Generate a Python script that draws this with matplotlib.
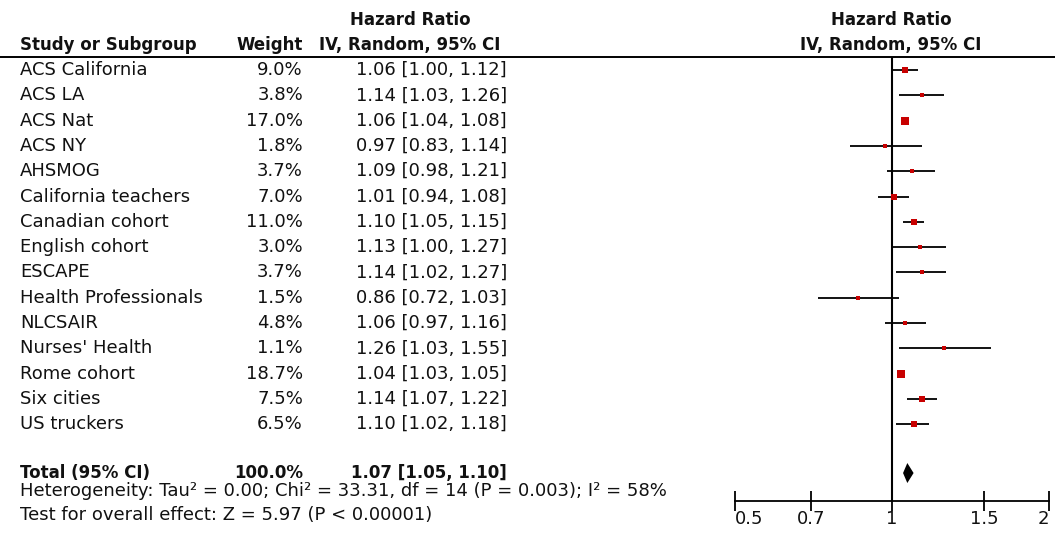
import numpy as np
import matplotlib
matplotlib.use("Agg")
import matplotlib.pyplot as plt
from matplotlib.transforms import blended_transform_factory
from matplotlib.lines import Line2D

# ---------------- data ----------------
studies = ["ACS California", "ACS LA", "ACS Nat", "ACS NY", "AHSMOG",
           "California teachers", "Canadian cohort", "English cohort", "ESCAPE",
           "Health Professionals", "NLCSAIR", "Nurses' Health", "Rome cohort",
           "Six cities", "US truckers"]
weights = [9.0, 3.8, 17.0, 1.8, 3.7, 7.0, 11.0, 3.0, 3.7, 1.5, 4.8, 1.1, 18.7, 7.5, 6.5]
hr = [1.06, 1.14, 1.06, 0.97, 1.09, 1.01, 1.10, 1.13, 1.14, 0.86, 1.06, 1.26, 1.04, 1.14, 1.10]
ci_lo = [1.00, 1.03, 1.04, 0.83, 0.98, 0.94, 1.05, 1.00, 1.02, 0.72, 0.97, 1.03, 1.03, 1.07, 1.02]
ci_hi = [1.12, 1.26, 1.08, 1.14, 1.21, 1.08, 1.15, 1.27, 1.27, 1.03, 1.16, 1.55, 1.05, 1.22, 1.18]

total_label = "Total (95% CI)"
total_weight = 100.0
total_hr, total_lo, total_hi = 1.07, 1.05, 1.10

heterogeneity = "Heterogeneity: Tau\u00b2 = 0.00; Chi\u00b2 = 33.31, df = 14 (P = 0.003); I\u00b2 = 58%"
overall = "Test for overall effect: Z = 5.97 (P < 0.00001)"

xticks = [0.5, 0.7, 1, 1.5, 2]
xticklabels = ["0.5", "0.7", "1", "1.5", "2"]

# ---------------- layout ----------------
W, H = 1055, 540
FS = 13      # regular text
FSB = 12     # bold headers
TXT = "#111111"
plt.rcParams['font.family'] = ['DejaVu Sans']
fig = plt.figure(figsize=(W / 100, H / 100), dpi=100)

row0_px, row_step = 70.0, 25.3
top_px, axis_px = 57.0, 500.5
left_px, right_px = 735.0, 1049.0

def px2row(p):
    return (p - row0_px) / row_step

ax = fig.add_axes([left_px / W, 1 - axis_px / H, (right_px - left_px) / W, (axis_px - top_px) / H])
ax.set_xscale("log")
ax.set_xlim(0.5, 2)
ax.set_ylim(px2row(axis_px), px2row(top_px))
ax.minorticks_off()
ax.set_xticks(xticks)
ax.set_xticklabels(xticklabels)
ax.tick_params(axis="x", direction="inout", length=14, width=1.3, pad=0,
               labelsize=FS, colors="black", labelcolor=TXT)
ax.set_yticks([])
for s in ["top", "left", "right"]:
    ax.spines[s].set_visible(False)
ax.spines["bottom"].set_linewidth(1.3)
labs = ax.get_xticklabels()
labs[0].set_ha("left")
labs[-1].set_ha("right")
ax.patch.set_alpha(0)

# line of no effect
ax.axvline(1, color="black", lw=1.5, zorder=1)

rows = np.arange(len(studies))
for r, w, e, lo, hi in zip(rows, weights, hr, ci_lo, ci_hi):
    ax.plot([lo, hi], [r, r], color="black", lw=1.3, solid_capstyle="butt", zorder=2)
    side_px = max(3.5, 8.5 * np.sqrt(w / 18.7))
    ax.plot([e], [r], marker="s", ms=side_px * 0.72, color="#C80000",
            markeredgewidth=0, zorder=3)

total_row = 15.93
dh = 10.0 / row_step
ax.fill([total_lo, total_hr, total_hi, total_hr],
        [total_row, total_row - dh, total_row, total_row + dh],
        color="black", lw=0, zorder=3)

# header rule across the full width
fig.add_artist(Line2D([0, 1], [1 - top_px / H, 1 - top_px / H],
                      transform=fig.transFigure, color="black", lw=1.4))

# ---------------- table text ----------------
tr = blended_transform_factory(fig.transFigure, ax.transData)
name_x, weight_x, hr_x = 20 / W, 303 / W, 507 / W

def fy(p):
    return 1 - p / H

hdr = dict(fontsize=FSB, fontweight="bold", color=TXT, va="center")
fig.text(20 / W, fy(45), "Study or Subgroup", ha="left", **hdr)
fig.text(weight_x, fy(45), "Weight", ha="right", **hdr)
fig.text(410 / W, fy(20), "Hazard Ratio", ha="center", **hdr)
fig.text(410 / W, fy(45), "IV, Random, 95% CI", ha="center", **hdr)
fig.text(891 / W, fy(20), "Hazard Ratio", ha="center", **hdr)
fig.text(891 / W, fy(45), "IV, Random, 95% CI", ha="center", **hdr)

for r, name, w, e, lo, hi in zip(rows, studies, weights, hr, ci_lo, ci_hi):
    fig.text(name_x, r, name, transform=tr, ha="left", va="center", fontsize=FS, color=TXT)
    fig.text(weight_x, r, f"{w:.1f}%", transform=tr, ha="right", va="center", fontsize=FS, color=TXT)
    fig.text(hr_x, r, f"{e:.2f} [{lo:.2f}, {hi:.2f}]", transform=tr, ha="right",
             va="center", fontsize=FS, color=TXT)

fig.text(name_x, total_row, total_label, transform=tr, ha="left", va="center",
         fontsize=FSB, fontweight="bold", color=TXT)
fig.text(weight_x, total_row, f"{total_weight:.1f}%", transform=tr, ha="right", va="center",
         fontsize=FSB, fontweight="bold", color=TXT)
fig.text(hr_x, total_row, f"{total_hr:.2f} [{total_lo:.2f}, {total_hi:.2f}]", transform=tr,
         ha="right", va="center", fontsize=FSB, fontweight="bold", color=TXT)

fig.text(name_x, fy(491), heterogeneity, ha="left", va="center", fontsize=FS, color=TXT)
fig.text(name_x, fy(515), overall, ha="left", va="center", fontsize=FS, color=TXT)

fig.savefig("out.png", dpi=100, facecolor="white")
